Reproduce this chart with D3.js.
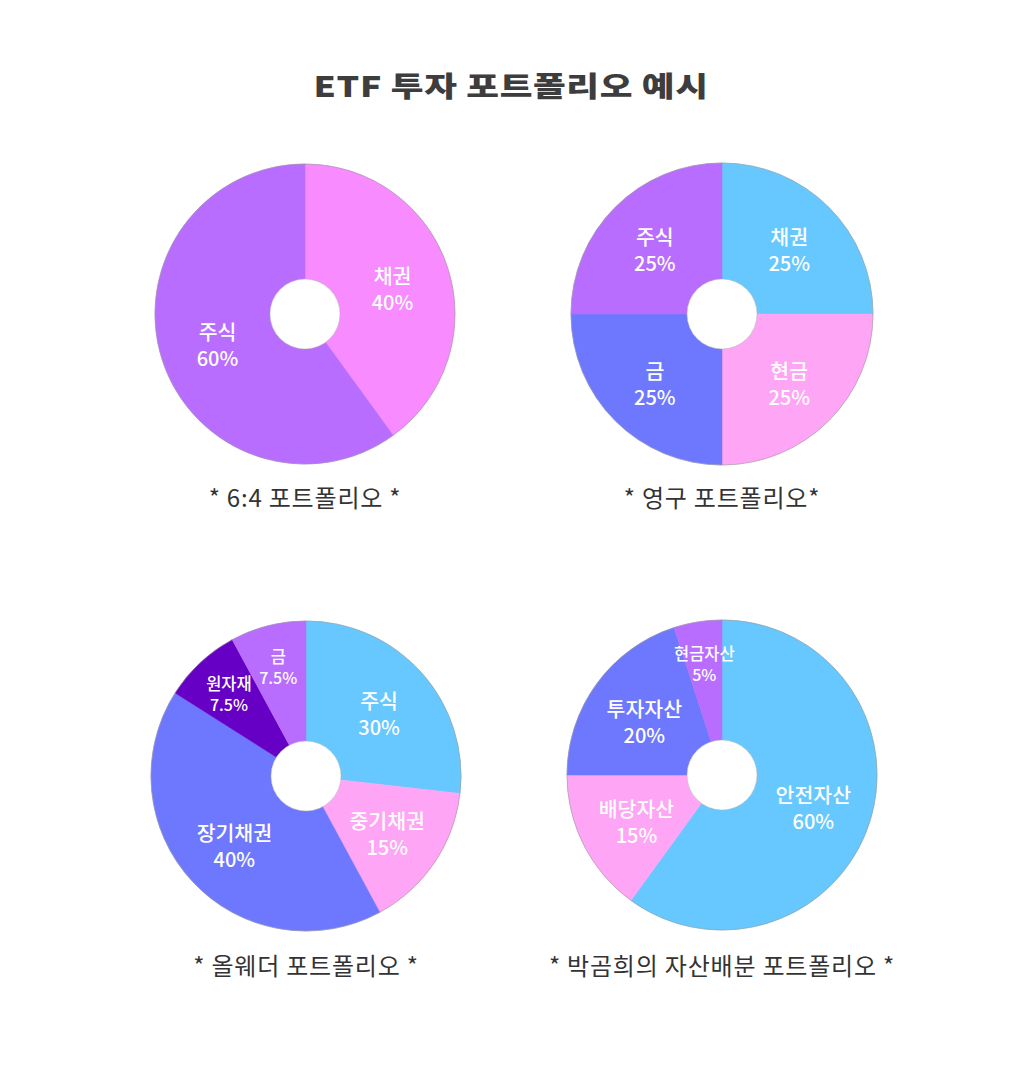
<!DOCTYPE html>
<html><head><meta charset="utf-8">
<script src="https://cdn.jsdelivr.net/npm/d3@7"></script>
<style>
html,body{margin:0;padding:0;background:#fff;}
svg{display:block;}
text{font-family:"Noto Sans CJK KR","Noto Sans",sans-serif;}
</style></head>
<body>
<svg id="chart" width="1023" height="1066"></svg>
<script>
// ---- data ----
const titleText = "ETF 투자 포트폴리오 예시";

const p1Names = ["채권", "주식"];
const p1Values = [40, 60];
const p1Labels = ["40%", "60%"];
const p1Colors = ["#f78bff", "#b86dff"];
const p1Caption = "* 6:4 포트폴리오 *";

const p2Names = ["채권", "현금", "금", "주식"];
const p2Values = [25, 25, 25, 25];
const p2Labels = ["25%", "25%", "25%", "25%"];
const p2Colors = ["#66c8ff", "#ffa5f5", "#6e78ff", "#b86dff"];
const p2Caption = "* 영구 포트폴리오*";

const p3Names = ["주식", "중기채권", "장기채권", "원자재", "금"];
const p3Values = [26.8, 15.3, 41.9, 8.1, 7.9]; // slice sizes as drawn in the picture
const p3Labels = ["30%", "15%", "40%", "7.5%", "7.5%"];
const p3Colors = ["#66c8ff", "#ffa5f5", "#6e78ff", "#6600c4", "#b86dff"];
const p3Caption = "* 올웨더 포트폴리오 *";

const p4Names = ["안전자산", "배당자산", "투자자산", "현금자산"];
const p4Values = [60, 15, 20, 5];
const p4Labels = ["60%", "15%", "20%", "5%"];
const p4Colors = ["#66c8ff", "#ffa5f5", "#6e78ff", "#b86dff"];
const p4Caption = "* 박곰희의 자산배분 포트폴리오 *";

// ---- layout ----
const charts = [
  {names:p1Names, values:p1Values, labels:p1Labels, colors:p1Colors, caption:p1Caption, cx:305, cy:314, r:150, lr:92, capY:498},
  {names:p2Names, values:p2Values, labels:p2Labels, colors:p2Colors, caption:p2Caption, cx:722, cy:314, r:151, lr:95, capY:498},
  {names:p3Names, values:p3Values, labels:p3Labels, colors:p3Colors, caption:p3Caption, cx:306, cy:776, r:155, lr:98, capY:966},
  {names:p4Names, values:p4Values, labels:p4Labels, colors:p4Colors, caption:p4Caption, cx:722, cy:775, r:155, lr:96, capY:966}
];
const holeR = 35;

const svg = d3.select("#chart");

svg.append("text")
  .attr("transform", "translate(511,97) scale(1.27,1)")
  .attr("text-anchor", "middle")
  .attr("font-size", 28)
  .attr("font-weight", 900)
  .attr("letter-spacing", 0.5)
  .attr("fill", "#3d3d3d")
  .text(titleText);

charts.forEach(c => {
  const total = d3.sum(c.values);
  const pie = d3.pie().sort(null).value(d => d.v);
  const data = c.values.map((v, i) => ({v, name:c.names[i], label:c.labels[i], color:c.colors[i], share:v/total}));
  const arcs = pie(data);
  const arc = d3.arc().innerRadius(holeR).outerRadius(c.r);
  const g = svg.append("g").attr("transform", `translate(${c.cx},${c.cy})`);

  g.selectAll("path.slice").data(arcs).join("path")
    .attr("class", "slice")
    .attr("d", arc)
    .attr("fill", d => d.data.color)
    .attr("stroke", d => d.data.color)
    .attr("stroke-width", 0.5);

  g.append("circle").attr("r", c.r).attr("fill", "none").attr("stroke", "#9a9a9a").attr("stroke-width", 0.6);
  g.append("circle").attr("r", holeR).attr("fill", "#fff").attr("stroke", "#b0b0b0").attr("stroke-width", 0.5);

  arcs.forEach(d => {
    const small = d.data.share < 0.1;
    const lr = small ? 113 : c.lr;
    const la = d3.arc().innerRadius(lr).outerRadius(lr);
    const [x, y] = la.centroid(d);
    const fs = small ? 16.5 : 20.5;
    g.append("text")
      .attr("x", x).attr("y", y + (small ? -3 : -2))
      .attr("text-anchor", "middle")
      .attr("fill", "#fff")
      .attr("font-size", fs)
      .attr("font-weight", 500)
      .text(d.data.name);
    g.append("text")
      .attr("x", x).attr("y", y + (small ? 18 : 24))
      .attr("text-anchor", "middle")
      .attr("fill", "#fff")
      .attr("font-family", "Inter, 'Noto Sans', sans-serif")
      .attr("font-size", small ? 16 : 20)
      .attr("font-weight", 500)
      .text(d.data.label);
  });

  svg.append("text")
    .attr("x", c.cx).attr("y", c.capY + 9)
    .attr("text-anchor", "middle")
    .attr("font-size", 24)
    .attr("font-weight", 400)
    .attr("letter-spacing", 0.8)
    .attr("fill", "#333")
    .text(c.caption);
});
</script>
</body></html>
